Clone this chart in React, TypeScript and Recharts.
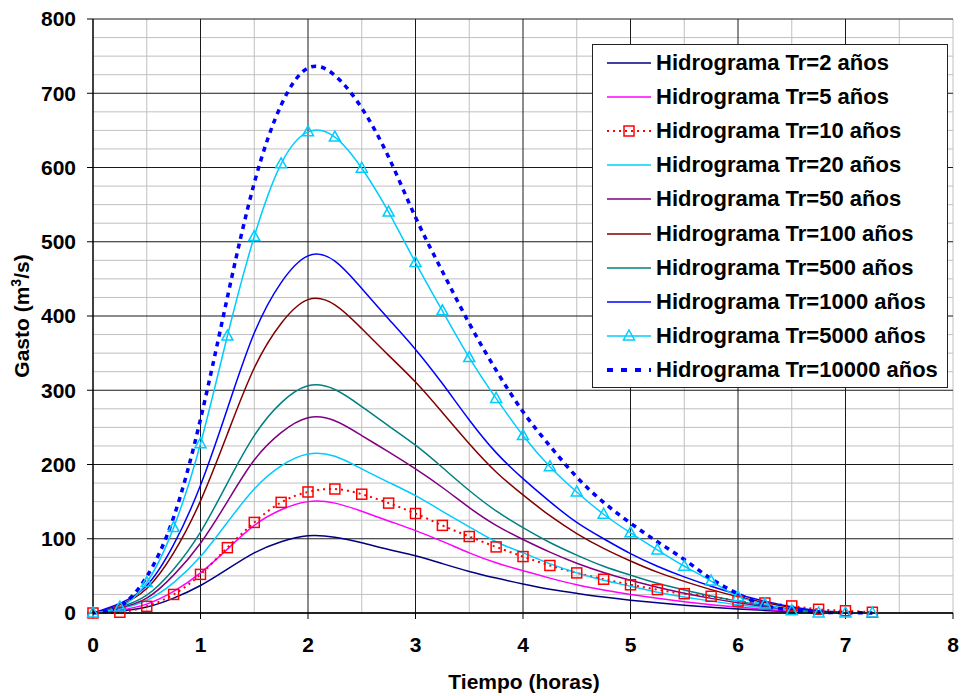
import React from "react";
import { LineChart, Line, XAxis, YAxis, CartesianGrid, Legend } from "recharts";

// tiempo (horas), un punto cada 15 min
const tiempo = [
  0, 0.25, 0.5, 0.75, 1, 1.25, 1.5, 1.75, 2, 2.25, 2.5, 2.75, 3, 3.25, 3.5,
  3.75, 4, 4.25, 4.5, 4.75, 5, 5.25, 5.5, 5.75, 6, 6.25, 6.5, 6.75, 7, 7.25,
];

// gastos (m3/s)
const tr2 = [0, 2.7, 8, 20, 37, 59, 81, 96, 104, 102, 94.5, 85.5, 77, 66.5, 56, 47, 39, 32, 26.5, 21.5, 17.3, 13.7, 10.5, 7.8, 5.5, 3.5, 1.8, 0.6, 0];
const tr5 = [0, 4, 12, 29, 54, 86, 118, 139, 150, 148, 137, 124, 111, 96.5, 81, 67.6, 57, 47, 38, 31, 25, 20, 15, 11, 8, 5, 2.6, 0.9, 0];
const tr10 = [0, 1, 9, 25, 52, 88, 122, 149, 163, 167, 160, 148, 134, 118, 103, 89, 76, 64, 54, 45.5, 38, 31.5, 26, 22.5, 16, 13.5, 9.5, 5, 3, 1];
const tr20 = [0, 6, 17, 41, 76, 122, 167, 198, 214, 211, 194, 176, 158, 137, 116, 96, 81, 66.5, 54, 44, 36, 28, 21.6, 16, 11, 7, 3.7, 1.3, 0];
const tr50 = [0, 7, 20, 51, 94, 150, 206, 243, 263, 259, 239, 217, 194, 169, 142, 118, 99, 82, 67, 54.5, 44, 34.6, 26.6, 19.7, 13.8, 8.8, 4.5, 1.6, 0];
const tr100 = [0, 11, 33, 81, 151, 241, 330, 390, 422, 415, 383, 347, 311, 270, 228, 190, 159, 131, 107, 87, 70, 55, 42.6, 31.5, 22, 14, 7.2, 2.6, 0];
const tr500 = [0, 8, 24, 59, 109, 175, 239, 283, 306, 301, 278, 252, 226, 196, 165, 137.5, 115, 95, 78, 63, 51, 40, 31, 23, 16, 10, 5.3, 1.9, 0];
const tr1000 = [0, 13, 37, 92, 172, 275, 377, 445, 481, 474, 437, 396, 355, 309, 260, 216, 181, 150, 122, 100, 80, 63, 48.6, 36, 25, 16, 8.3, 2.9, 0];
const tr5000 = [0, 8, 41, 115, 228, 373, 507, 605, 648, 641, 599, 540, 472, 407, 344, 289, 239, 197, 163, 133, 108, 85, 63, 43, 22, 12, 3, 0, 0, 0];
const tr10000 = [0, 9, 49, 129, 261, 425, 579, 684, 734, 724, 680, 614, 533, 460, 390, 327, 271, 225, 183, 149, 121, 96, 72, 46, 26, 10, 4, 1, 0.5, 0];

const xTicks = [0, 1, 2, 3, 4, 5, 6, 7, 8];
const xMajorGrid = [1, 2, 3, 4, 5, 6, 7];
const xMinorGrid = [0.5, 1.5, 2.5, 3.5, 4.5, 5.5, 6.5, 7.5, 8];
const yTicks = [0, 100, 200, 300, 400, 500, 600, 700, 800];
const yMinorGrid = [
  25, 50, 75, 125, 150, 175, 225, 250, 275, 325, 350, 375, 425, 450, 475,
  525, 550, 575, 625, 650, 675, 725, 750, 775,
];

const FONT = '"Liberation Sans", Arial, Helvetica, sans-serif';

const SERIES = [
  { key: "tr2", name: "Hidrograma Tr=2 años", values: tr2, color: "#000080", width: 1.5 },
  { key: "tr5", name: "Hidrograma Tr=5 años", values: tr5, color: "#FF00FF", width: 1.5 },
  { key: "tr10", name: "Hidrograma Tr=10 años", values: tr10, color: "#FF0000", width: 2, dash: "2 4", marker: "square" },
  { key: "tr20", name: "Hidrograma Tr=20 años", values: tr20, color: "#00CCFF", width: 1.5 },
  { key: "tr50", name: "Hidrograma Tr=50 años", values: tr50, color: "#800080", width: 1.5 },
  { key: "tr100", name: "Hidrograma Tr=100 años", values: tr100, color: "#800000", width: 1.5 },
  { key: "tr500", name: "Hidrograma Tr=500 años", values: tr500, color: "#008080", width: 1.5 },
  { key: "tr1000", name: "Hidrograma Tr=1000 años", values: tr1000, color: "#0000FF", width: 1.5 },
  { key: "tr5000", name: "Hidrograma Tr=5000 años", values: tr5000, color: "#00CCFF", width: 1.5, marker: "triangle" },
  { key: "tr10000", name: "Hidrograma Tr=10000 años", values: tr10000, color: "#0000FF", width: 3.5, dash: "5 5" },
];

const data = tiempo.map((t, i) => {
  const row: Record<string, number> = { t };
  SERIES.forEach((s) => {
    if (i < s.values.length) row[s.key] = s.values[i];
  });
  return row;
});

function Marker({ kind, color, cx, cy }: { kind?: string; color: string; cx: number; cy: number }) {
  if (kind === "square") {
    return <rect x={cx - 5} y={cy - 5} width={10} height={10} fill="none" stroke={color} strokeWidth={1.5} />;
  }
  if (kind === "triangle") {
    return (
      <path
        d={`M${cx},${cy - 6}L${cx + 5.5},${cy + 4}L${cx - 5.5},${cy + 4}Z`}
        fill="none"
        stroke={color}
        strokeWidth={1.5}
      />
    );
  }
  return null;
}

const makeDot = (kind: string, color: string) => (props: any) => {
  const { cx, cy, index } = props;
  if (cx == null || cy == null) return <g key={`d-${index}`} />;
  return (
    <g key={`d-${index}`}>
      <Marker kind={kind} color={color} cx={cx} cy={cy} />
    </g>
  );
};

function LegendBox() {
  return (
    <div
      style={{
        width: 356,
        height: 344,
        boxSizing: "border-box",
        border: "1.5px solid #222",
        background: "#fff",
        paddingTop: 1,
        fontFamily: FONT,
        fontWeight: "bold",
        fontSize: 22,
        color: "#000",
      }}
    >
      {SERIES.map((s) => (
        <div key={s.key} style={{ height: 34.1, display: "flex", alignItems: "center" }}>
          <svg width={44} height={16} style={{ marginLeft: 14, marginRight: 5, flex: "none" }}>
            <line
              x1={0}
              y1={8}
              x2={44}
              y2={8}
              stroke={s.color}
              strokeWidth={s.key === "tr10000" ? 4 : s.width}
              strokeDasharray={s.key === "tr10000" ? "6 8" : s.dash}
            />
            <Marker kind={s.marker} color={s.color} cx={22} cy={8} />
          </svg>
          <span style={{ whiteSpace: "nowrap" }}>{s.name}</span>
        </div>
      ))}
    </div>
  );
}

const tickStyle = { fontFamily: FONT, fontWeight: "bold", fontSize: 21, fill: "#000" };

export default function App() {
  return (
    <div style={{ position: "absolute", left: 0, top: 0, width: 961, height: 696, background: "#fff" }}>
      <LineChart
        width={961}
        height={696}
        data={data}
        margin={{ top: 19, right: 8, bottom: 33, left: 30 }}
      >
        <CartesianGrid
          stroke="#c0c0c0"
          strokeWidth={1}
          horizontalValues={yMinorGrid}
          verticalValues={xMinorGrid}
        />
        <CartesianGrid
          stroke="#1a1a1a"
          strokeWidth={1}
          horizontalValues={yTicks}
          verticalValues={xMajorGrid}
        />
        <XAxis
          type="number"
          dataKey="t"
          domain={[0, 8]}
          ticks={xTicks}
          interval={0}
          height={50}
          tickSize={6}
          tickMargin={18}
          tick={tickStyle}
          stroke="#000"
          axisLine={{ stroke: "#000", strokeWidth: 1.5 }}
          tickLine={{ stroke: "#000" }}
        />
        <YAxis
          type="number"
          domain={[0, 800]}
          ticks={yTicks}
          interval={0}
          width={63}
          tickSize={6}
          tickMargin={11}
          tick={tickStyle}
          stroke="#000"
          axisLine={{ stroke: "#000", strokeWidth: 1.5 }}
          tickLine={{ stroke: "#000" }}
        />
        {SERIES.map((s) => (
          <Line
            key={s.key}
            type="natural"
            dataKey={s.key}
            name={s.name}
            stroke={s.color}
            strokeWidth={s.width}
            strokeDasharray={s.dash}
            dot={s.marker ? makeDot(s.marker, s.color) : false}
            activeDot={false}
            isAnimationActive={false}
          />
        ))}
        <Legend
          layout="vertical"
          align="center"
          verticalAlign="middle"
          content={<LegendBox />}
          wrapperStyle={{ top: 44, left: 592, width: 356, height: 344 }}
        />
        <text
          x={524}
          y={689}
          textAnchor="middle"
          style={{ fontFamily: FONT, fontWeight: "bold", fontSize: 21, fill: "#000" }}
        >
          Tiempo (horas)
        </text>
        <text
          x={29}
          y={316}
          transform="rotate(-90 29 316)"
          textAnchor="middle"
          style={{ fontFamily: FONT, fontWeight: "bold", fontSize: 21, fill: "#000" }}
        >
          Gasto (m
          <tspan dy={-8} fontSize={14}>3</tspan>
          <tspan dy={8}>/s)</tspan>
        </text>
      </LineChart>
    </div>
  );
}
